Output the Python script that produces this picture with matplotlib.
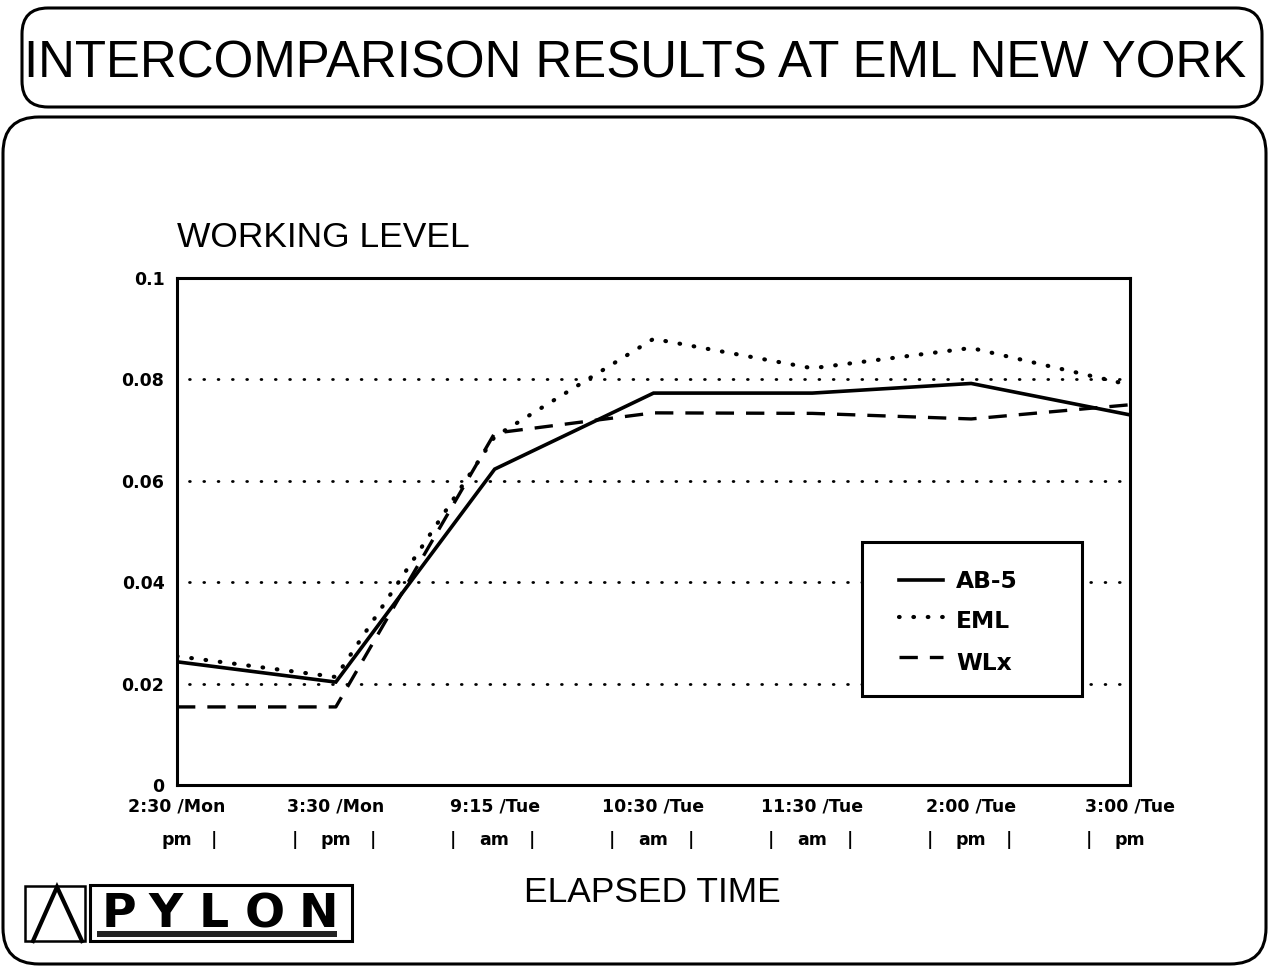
import matplotlib
matplotlib.use("Agg")
import matplotlib.pyplot as plt
import matplotlib.transforms as mtransforms
from matplotlib.patches import FancyBboxPatch, Rectangle
from matplotlib.lines import Line2D

# ---------------- data ----------------
times = ["2:30 /Mon", "3:30 /Mon", "9:15 /Tue", "10:30 /Tue", "11:30 /Tue", "2:00 /Tue", "3:00 /Tue"]
periods = ["pm", "pm", "am", "am", "am", "pm", "pm"]

ab5 = [0.0243, 0.0203, 0.0623, 0.0773, 0.0773, 0.0792, 0.0730]
eml = [0.0254, 0.0213, 0.0687, 0.0880, 0.0822, 0.0862, 0.0789]
wlx = [0.0154, 0.0154, 0.0694, 0.0734, 0.0733, 0.0722, 0.0750]

series_names = ["AB-5", "EML", "WLx"]
yticks = [0, 0.02, 0.04, 0.06, 0.08, 0.1]
ytick_labels = ["0", "0.02", "0.04", "0.06", "0.08", "0.1"]
grid_levels = [0.02, 0.04, 0.06, 0.08]

title = "INTERCOMPARISON RESULTS AT EML NEW YORK"
ylabel_text = "WORKING LEVEL"
xlabel_text = "ELAPSED TIME"
logo_text = "PYLON"

# ---------------- figure ----------------
W, H = 1270, 968
fig = plt.figure(figsize=(W / 100, H / 100), dpi=100)
fig.patch.set_facecolor("white")

# background overlay in pixel coordinates
bg = fig.add_axes([0, 0, 1, 1], zorder=0)
bg.set_xlim(0, W)
bg.set_ylim(H, 0)
bg.axis("off")

bg.add_patch(FancyBboxPatch((22, 8), 1240, 99, boxstyle="round,pad=0,rounding_size=26",
                            fc="white", ec="black", lw=2.2))
bg.add_patch(FancyBboxPatch((3, 117), 1263, 847, boxstyle="round,pad=0,rounding_size=36",
                            fc="white", ec="black", lw=2.2))
bg.text(635, 78, title, fontsize=36.7, family="Liberation Sans", ha="center", va="baseline",
        color="black")

# logo
bg.add_patch(Rectangle((25, 886), 60, 55, fc="none", ec="black", lw=1.8))
bg.plot([33, 57, 82], [941, 887, 941], color="black", lw=3.0, solid_joinstyle="miter")
bg.add_patch(Rectangle((90, 885), 262, 56, fc="none", ec="black", lw=2.2))
letter_centres = [119, 166, 214, 265, 318]
for ch, cx in zip(logo_text, letter_centres):
    bg.text(cx, 927, ch, fontsize=34, family="DejaVu Sans", weight="bold",
            ha="center", va="baseline")
bg.add_patch(Rectangle((97, 931), 240, 6, fc="#222222", ec="none"))

# ---------------- main axes ----------------
ax = fig.add_axes([177 / W, 1 - 785 / H, 953 / W, 507 / H], zorder=1)
ax.set_facecolor("none")

x = list(range(len(times)))
styles = [
    dict(color="black", lw=2.6, linestyle="-", solid_joinstyle="miter"),
    dict(color="black", lw=3.0, linestyle=(0, (0.15, 3.3)), dash_capstyle="round"),
    dict(color="black", lw=2.4, linestyle=(0, (5.5, 3.6))),
]
values = [ab5, eml, wlx]

for lvl in grid_levels:
    ax.axhline(lvl, xmin=0.013, xmax=0.99, color="black", lw=2.0,
               linestyle=(0, (0.3, 4.85)), dash_capstyle="round", zorder=1)

for name, vals, st in zip(series_names, values, styles):
    ax.plot(x, vals, label=name, zorder=3, **st)

ax.set_xlim(0, 6)
ax.set_ylim(0, 0.1)
ax.set_yticks(yticks)
ax.set_yticklabels(ytick_labels)
ax.set_xticks(x)
ax.set_xticklabels(times)
tick_font = dict(family="DejaVu Sans", weight="bold", size=12.5)
for lab in ax.get_xticklabels() + ax.get_yticklabels():
    lab.set_fontfamily("DejaVu Sans")
    lab.set_fontweight("bold")
    lab.set_fontsize(12.5)
ax.tick_params(axis="both", length=0)
ax.tick_params(axis="y", pad=9)
ax.tick_params(axis="x", pad=9)
for sp in ax.spines.values():
    sp.set_linewidth(2.2)
    sp.set_color("black")

# second row of time labels (am / pm with bar separators)
tr = mtransforms.blended_transform_factory(ax.transData, ax.transAxes)
row_y = -0.108
for i, (xi, p) in enumerate(zip(x, periods)):
    ax.text(xi, row_y, p, transform=tr, ha="center", va="center", **tick_font)
    if i > 0:
        ax.text(xi - 0.26, row_y, "|", transform=tr, ha="center", va="center", **tick_font)
    if i < len(x) - 1:
        ax.text(xi + 0.235, row_y, "|", transform=tr, ha="center", va="center", **tick_font)

# axis labels
ax.set_title(ylabel_text, loc="left", fontsize=25.5, family="Liberation Sans", pad=22)
ax.set_xlabel(xlabel_text, fontsize=25.5, family="Liberation Sans")
ax.xaxis.label.set_va("baseline")
ax.xaxis.set_label_coords(0.499, -0.2308)

# legend (drawn as a framed box inside the axes)
ax.add_patch(Rectangle((0.719, 0.1755), 0.231, 0.3035, transform=ax.transAxes,
                       fc="white", ec="black", lw=2.2, zorder=5))
sample_y = [0.4043, 0.3314, 0.2525]
text_y = [0.3886, 0.3097, 0.2268]
for name, st, sy, ty in zip(series_names, styles, sample_y, text_y):
    ax.add_line(Line2D([0.7576, 0.8038], [sy, sy], transform=ax.transAxes, zorder=6, **st))
    ax.text(0.8174, ty, name, transform=ax.transAxes, ha="left", va="baseline", zorder=6,
            family="DejaVu Sans", weight="bold", size=16.8)

fig.savefig("out.png", dpi=100, facecolor="white")
